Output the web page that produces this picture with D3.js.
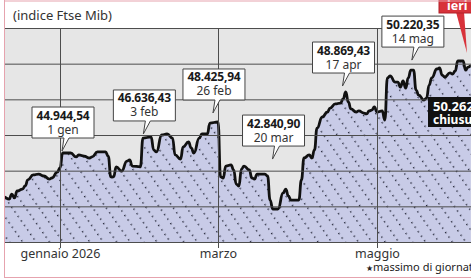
<!DOCTYPE html>
<html lang="it">
<head>
<meta charset="utf-8">
<title>Ftse Mib</title>
<script src="https://cdn.jsdelivr.net/npm/d3@7"></script>
<style>
  body { margin: 0; background: #fff; }
  svg { display: block; font-family: "Noto Sans", "Open Sans", sans-serif; }
</style>
</head>
<body>
<script>
var w = 471, h = 280;

// andamento dell'indice
var dates = [
  "2025-12-11","2025-12-13","2025-12-14","2025-12-15","2025-12-16","2025-12-18","2025-12-19","2025-12-20",
  "2025-12-22","2025-12-24","2025-12-26","2025-12-28","2025-12-29","2025-12-31",
  "2026-01-01","2026-01-02","2026-01-05","2026-01-07","2026-01-08","2026-01-10","2026-01-12","2026-01-13",
  "2026-01-15","2026-01-18","2026-01-19","2026-01-20","2026-01-21","2026-01-22","2026-01-24","2026-01-26",
  "2026-01-27","2026-01-28","2026-01-31",
  "2026-02-01","2026-02-04","2026-02-05","2026-02-06","2026-02-08","2026-02-10","2026-02-12","2026-02-13",
  "2026-02-15","2026-02-16","2026-02-18","2026-02-19","2026-02-20","2026-02-22","2026-02-23","2026-02-25",
  "2026-02-26",
  "2026-03-01","2026-03-02","2026-03-03","2026-03-04","2026-03-06","2026-03-07","2026-03-08","2026-03-09",
  "2026-03-10","2026-03-11","2026-03-13","2026-03-14","2026-03-15","2026-03-16","2026-03-19","2026-03-20",
  "2026-03-21","2026-03-22","2026-03-24","2026-03-26","2026-03-27","2026-03-28","2026-03-29",
  "2026-04-01","2026-04-02","2026-04-03","2026-04-05","2026-04-06","2026-04-07","2026-04-08","2026-04-10",
  "2026-04-12","2026-04-13","2026-04-15","2026-04-17","2026-04-18","2026-04-19","2026-04-20","2026-04-21",
  "2026-04-23","2026-04-24","2026-04-26","2026-04-27","2026-04-28","2026-04-29","2026-04-30",
  "2026-05-01","2026-05-03","2026-05-04","2026-05-05","2026-05-06","2026-05-08","2026-05-09","2026-05-10",
  "2026-05-11","2026-05-12","2026-05-13","2026-05-14","2026-05-15","2026-05-16","2026-05-17","2026-05-19",
  "2026-05-20","2026-05-21","2026-05-22","2026-05-24","2026-05-25","2026-05-26","2026-05-27","2026-05-29",
  "2026-05-30","2026-05-31",
  "2026-06-01","2026-06-03","2026-06-04","2026-06-05","2026-06-06"
];
var values = [
  43520,43410,43690,43470,43860,43970,44140,44480,
  44760,44810,44700,44530,44590,44920,
  45150,45990,45990,45770,45880,45820,45710,45770,
  46050,46050,45820,44650,44650,45210,44980,45540,
  45600,45260,45210,
  46830,46890,46160,46050,47000,47060,46830,45880,
  45650,46330,46610,46270,45990,46830,47060,47060,
  47670,
  47730,44650,44590,45260,45320,45040,44250,44140,
  45090,45260,45040,44590,44530,44810,44810,44700,
  43350,42850,42850,43750,43970,43580,43350,
  43350,44480,45710,45880,45710,46160,47390,48010,
  48290,48510,48740,48790,49020,49410,48850,48460,
  48290,48350,48230,48180,48350,48400,48570,
  48290,48350,47840,50200,50310,49970,49970,49690,
  50030,49630,50200,50640,50640,49520,49240,48960,
  49070,49800,50200,50700,50760,50360,50250,50480,
  50420,50590,
  51150,51150,50640,50810,50870
];

var gridValues = [41000, 43000, 45000, 47000, 49000, 51000, 53000];
var tickDates = ["2026-01-01", "2026-03-01", "2026-05-01"];
var tickLabels = ["gennaio 2026", "marzo", "maggio"];

// etichette dei punti notevoli
var noteDates = ["2026-01-01", "2026-02-03", "2026-02-26", "2026-03-20", "2026-04-17", "2026-05-14"];
var noteValues = ["44.944,54", "46.636,43", "48.425,94", "42.840,90", "48.869,43", "50.220,35"];
var noteDays = ["1 gen", "3 feb", "26 feb", "20 mar", "17 apr", "14 mag"];
var noteLayout = [[2, 2], [-5, 3], [3, 9], [5, 15], [2, 6], [1, 10]]; // spostamento x, distanza dalla linea

var closeValue = "50.262";
var closeText = "chiusura";

var parse = d3.timeParse("%Y-%m-%d");
var series = dates.map(function(d, i) { return {date: parse(d), value: values[i]}; });

var svg = d3.select("body").append("svg")
    .attr("width", w)
    .attr("height", h);

var x = d3.scaleTime()
    .domain(tickDates.map(parse))
    .range([60, 218, 377]);

var y = d3.scaleLinear()
    .domain([41000, 53000])
    .range([242, 28]);

var pLeft = 5, pTop = 28, pBottom = 242;

// pattern puntinato
var defs = svg.append("defs");
var pat = defs.append("pattern")
    .attr("id", "dots")
    .attr("patternUnits", "userSpaceOnUse")
    .attr("width", 11)
    .attr("height", 5.5)
    .attr("patternTransform", "rotate(-35)");
pat.append("rect").attr("width", 11).attr("height", 5.5).attr("fill", "#c8cbe7");
pat.append("rect").attr("x", 0).attr("y", 0).attr("width", 1.4).attr("height", 1.4).attr("fill", "#26283a");

defs.append("clipPath").attr("id", "plot")
  .append("rect").attr("x", pLeft).attr("y", pTop).attr("width", w - pLeft).attr("height", pBottom - pTop);

// fondo grigio
svg.append("rect").attr("x", pLeft).attr("y", pTop).attr("width", w - pLeft).attr("height", pBottom - pTop)
    .attr("fill", "#e6e6e6");

svg.append("text")
    .attr("x", 13).attr("y", 20)
    .attr("font-size", 13)
    .attr("fill", "#333")
    .text("(indice Ftse Mib)");

var area = d3.area()
    .x(function(d) { return x(d.date); })
    .y0(pBottom)
    .y1(function(d) { return y(d.value); })
    .curve(d3.curveBumpX);

var line = d3.line()
    .x(function(d) { return x(d.date); })
    .y(function(d) { return y(d.value); })
    .curve(d3.curveBumpX);

var plot = svg.append("g").attr("clip-path", "url(#plot)");

plot.append("path").datum(series)
    .attr("d", area)
    .attr("fill", "url(#dots)");

// griglia
svg.append("g")
    .attr("transform", "translate(" + pLeft + ",0)")
    .call(d3.axisLeft(y).tickValues(gridValues).tickSize(-(w - pLeft)).tickFormat(""))
    .call(function(g) { g.select(".domain").remove(); })
    .selectAll("line").attr("stroke", "#4d4d4d").attr("stroke-width", 1);

var xAxis = svg.append("g")
    .attr("transform", "translate(0," + pBottom + ")")
    .call(d3.axisBottom(x).tickValues(tickDates.map(parse)).tickSizeOuter(0)
        .tickFormat(function(d, i) { return tickLabels[i]; }));
xAxis.select(".domain").remove();
xAxis.selectAll("line").attr("y1", -(pBottom - pTop)).attr("y2", 6).attr("stroke", "#4d4d4d");
xAxis.selectAll("text").attr("y", 7).attr("dy", "0.71em")
    .attr("font-size", 12.5).attr("fill", "#333").attr("font-family", "Noto Sans, sans-serif");

plot.append("path").datum(series)
    .attr("d", line)
    .attr("fill", "none")
    .attr("stroke", "#111")
    .attr("stroke-width", 2.8)
    .attr("stroke-linejoin", "round");

// etichette
var bw = 62, bh = 31, tail = 13;
noteDates.forEach(function(nd, i) {
  var d = parse(nd);
  var near = series.filter(function(p) { return Math.abs(p.date - d) <= 3 * 864e5; });
  var peak = d3.max(near, function(p) { return p.value; });
  var tx = x(d) + noteLayout[i][0];
  var ty = y(peak) - noteLayout[i][1];
  var l = tx - 30, b = ty - tail, t = b - bh;
  var g = svg.append("g");
  g.append("path")
    .attr("d", "M" + l + "," + t + "H" + (l + bw) + "V" + b + "H" + (tx + 7) + "L" + tx + "," + ty +
               "L" + (tx + 2) + "," + b + "H" + l + "Z")
    .attr("fill", "#fff")
    .attr("stroke", "#444")
    .attr("stroke-width", 1);
  g.append("text")
    .attr("x", l + bw / 2).attr("y", t + 12.5)
    .attr("text-anchor", "middle")
    .attr("font-size", 12).attr("font-weight", "bold").attr("fill", "#1a1a1a")
    .attr("letter-spacing", -0.2)
    .text(noteValues[i]);
  g.append("text")
    .attr("x", l + bw / 2).attr("y", t + 26.5)
    .attr("text-anchor", "middle")
    .attr("font-size", 12).attr("fill", "#333")
    .text(noteDays[i]);
});

// chiusura
svg.append("rect").attr("x", 428).attr("y", 97).attr("width", 60).attr("height", 30).attr("fill", "#111");
svg.append("text").attr("x", 433).attr("y", 110.5)
    .attr("font-size", 13).attr("font-weight", "bold").attr("fill", "#fff").text(closeValue);
svg.append("text").attr("x", 433).attr("y", 123.5)
    .attr("font-size", 12).attr("font-weight", "bold").attr("fill", "#fff").text(closeText);

// ieri
svg.append("path").attr("d", "M456,12L464,12L467,53Z").attr("fill", "#d8323a");
svg.append("rect").attr("x", 439).attr("y", -1).attr("width", 40).attr("height", 14)
    .attr("fill", "#d8323a").attr("stroke", "#b22028");
svg.append("text").attr("x", 447).attr("y", 10)
    .attr("font-size", 12.5).attr("font-weight", "bold").attr("fill", "#fff").text("ieri");

// nota
var note = svg.append("text").attr("x", 366).attr("y", 271).attr("font-size", 11).attr("fill", "#222");
note.append("tspan").attr("font-size", 8).text("\u2605");
note.append("tspan").text("massimo di giornata");

// bordo rosa
svg.append("line").attr("x1", 4.5).attr("x2", 4.5).attr("y1", 0).attr("y2", 278).attr("stroke", "#e6a3ae");
svg.append("line").attr("x1", 4).attr("x2", w).attr("y1", 1).attr("y2", 1).attr("stroke", "#e6a3ae");
svg.append("line").attr("x1", 4).attr("x2", w).attr("y1", 277.5).attr("y2", 277.5).attr("stroke", "#e6a3ae");
</script>
</body>
</html>
